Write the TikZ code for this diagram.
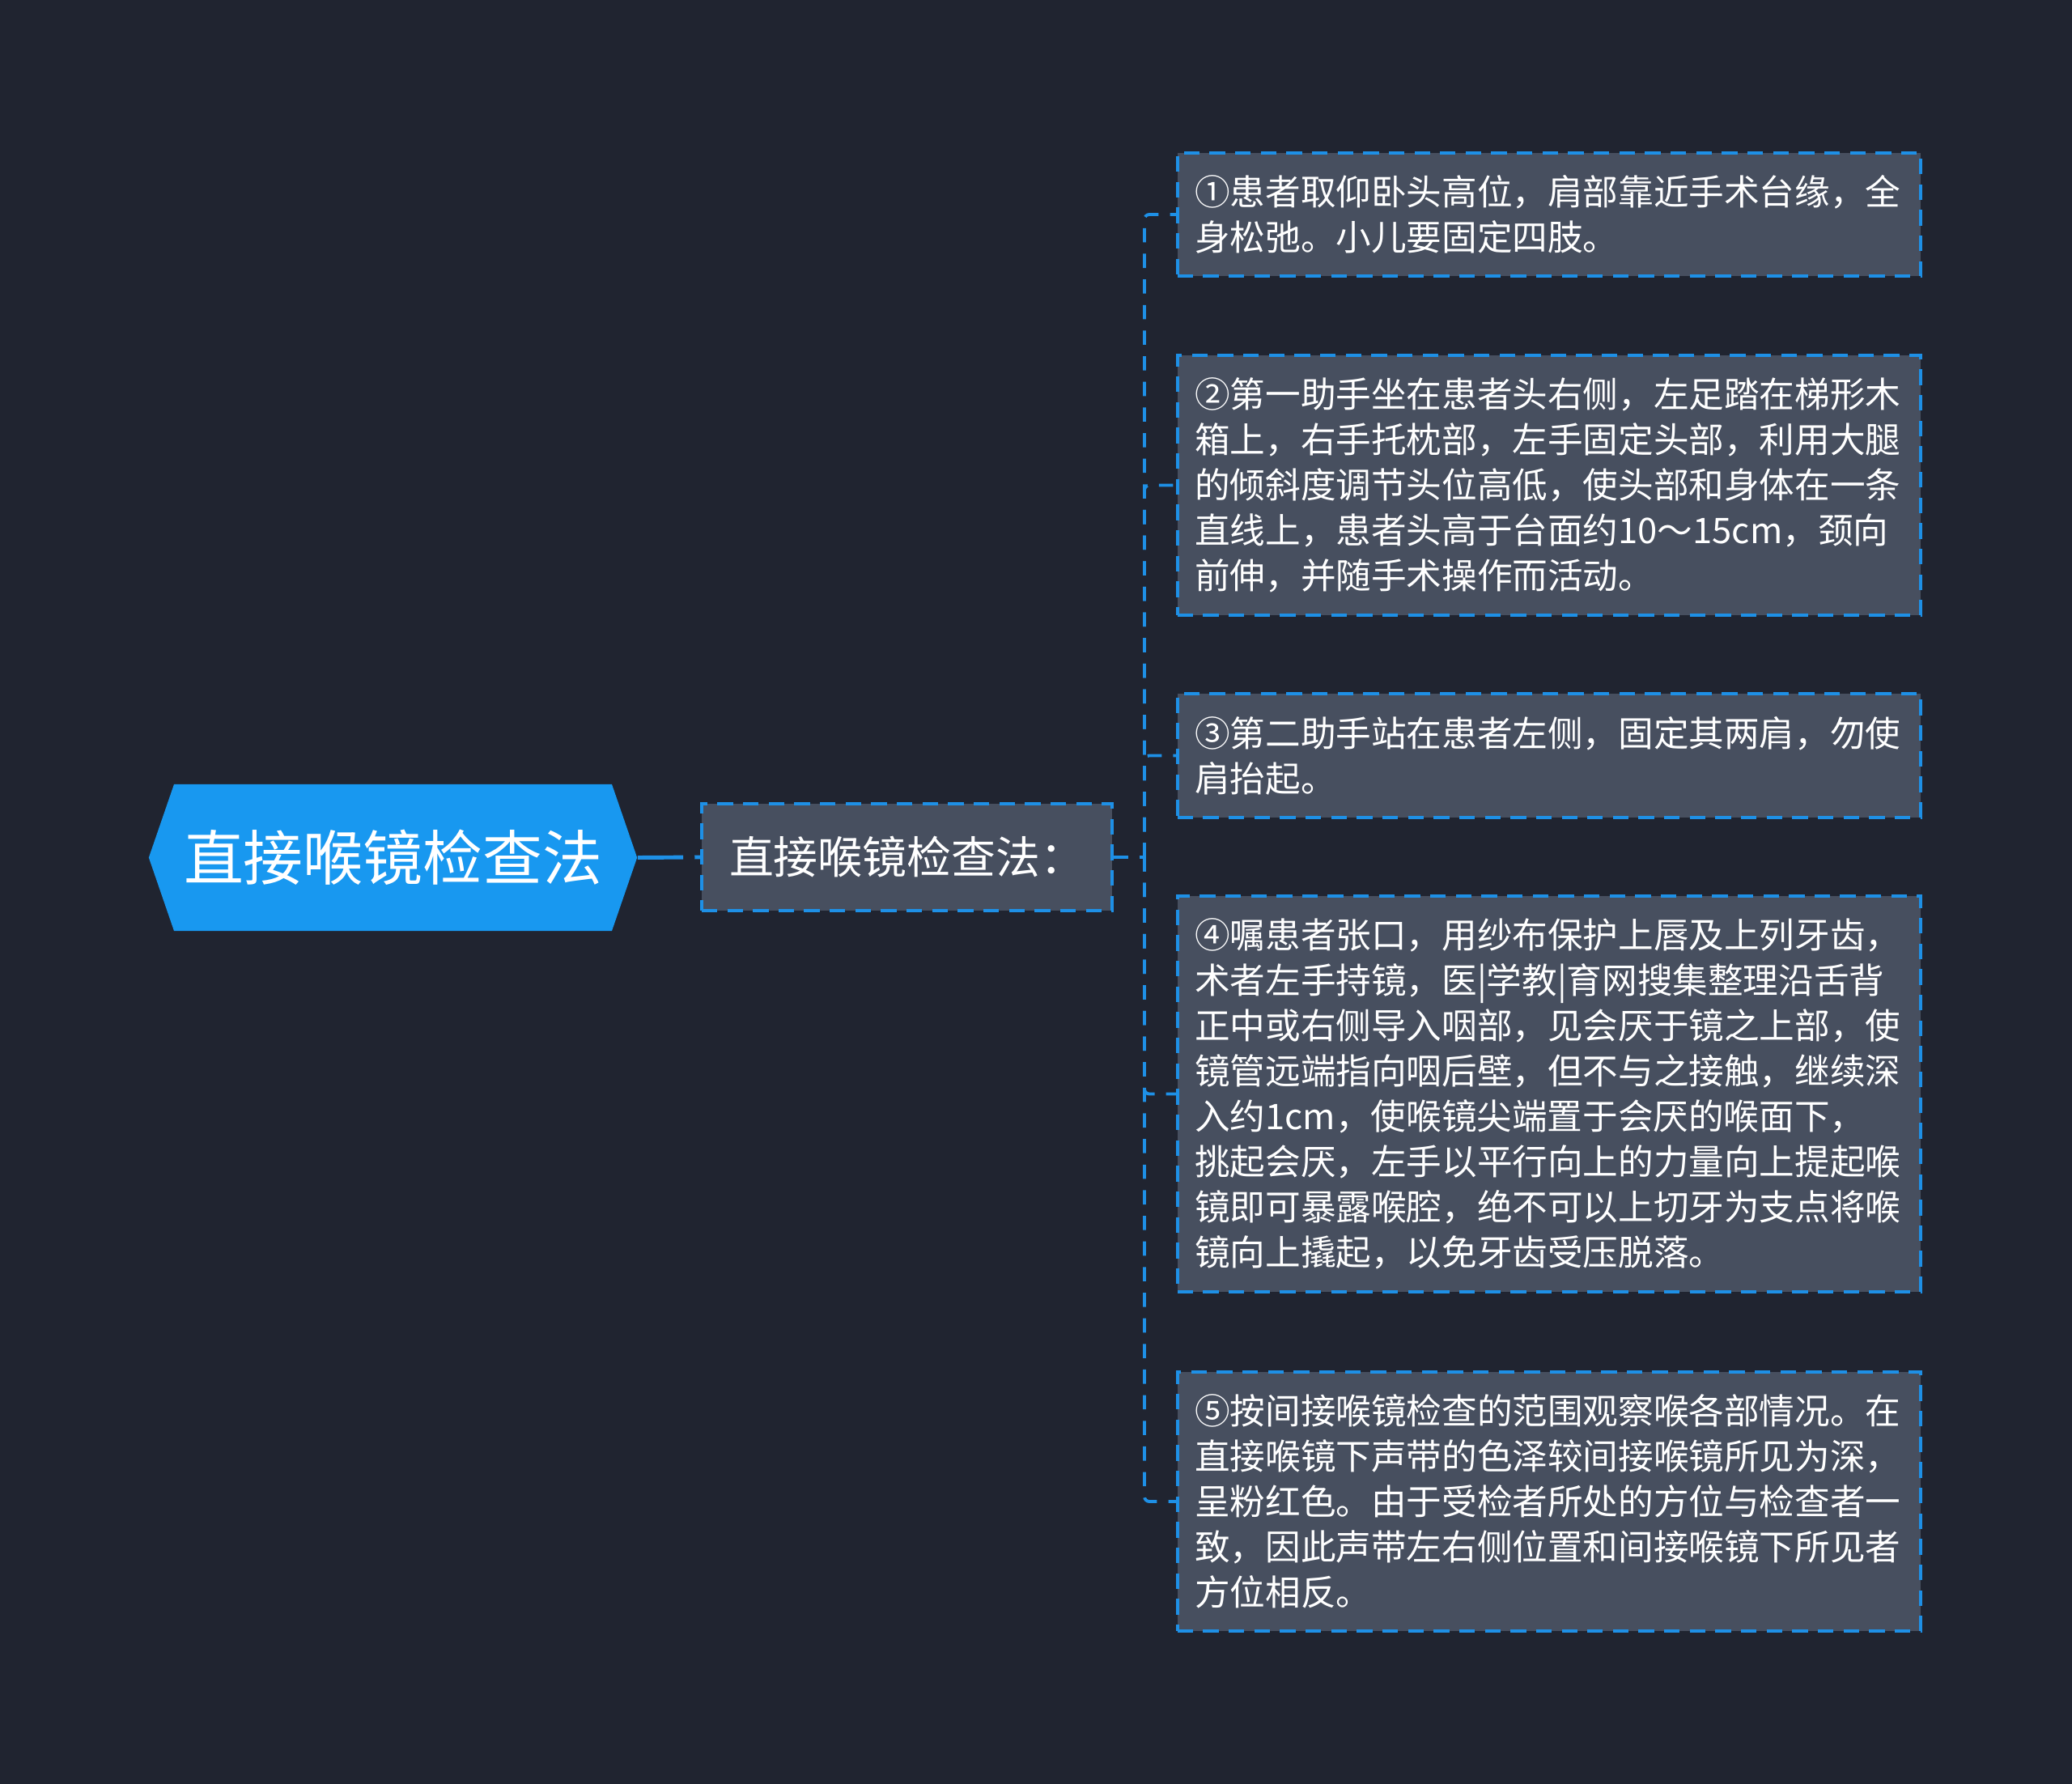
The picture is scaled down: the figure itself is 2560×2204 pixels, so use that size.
\documentclass[tikz,border=0pt]{standalone}
\usepackage{fontspec}
\setmainfont{Noto Sans CJK SC}
\usetikzlibrary{positioning,shapes.symbols}

\definecolor{bgnavy}{RGB}{32,36,48}
\definecolor{cardgray}{RGB}{71,79,95}
\definecolor{linkblue}{RGB}{30,144,230}
\definecolor{rootblue}{RGB}{24,152,240}

\tikzset{
  itembox/.style={draw=linkblue, line width=1.1pt, dash pattern=on 5.5pt off 3.5pt,
    fill=cardgray, text=white, text width=8.75cm, inner xsep=0.215cm, inner ysep=7.9pt,
    align=left, font=\fontsize{12.4pt}{15.9pt}\selectfont},
  midbox/.style={draw=linkblue, line width=1.1pt, dash pattern=on 5.5pt off 3.5pt,
    fill=cardgray, text=white, minimum width=5.07cm, minimum height=1.32cm,
    font=\fontsize{15.6pt}{18pt}\selectfont},
  rootbox/.style={signal, signal to=west and east, signal pointer angle=142,
    fill=rootblue, text=white, minimum width=6.03cm, minimum height=1.81cm,
    font=\fontsize{21pt}{24pt}\selectfont},
  link/.style={draw=linkblue, line width=1.1pt, dash pattern=on 5pt off 4pt,
    rounded corners=0.06cm},
  rootlink/.style={draw=linkblue, line width=1.4pt, dash pattern=on 16pt off 4pt},
}

\begin{document}
\begin{tikzpicture}[x=0.01cm, y=-0.01cm]
    % canvas, in pixels of the reference
    \fill[bgnavy] (0,0) rectangle (2560,2204);
    \useasboundingbox (0,0) rectangle (2560,2204);

    \node[rootbox] (root) at (485.5,1059.5) {直接喉镜检查法};
    \node[midbox] (mid) at (1120.5,1059) {直接喉镜检查法：};
    \coordinate (hub) at (1414,1059); % where the branches split

    % the five steps
    \node[itembox] (item1) at (1914,265) {①患者取仰卧头高位，肩部靠近手术台缘，全\\身松弛。小儿要固定四肢。};
    \node[itembox] (item2) at (1914,599.5) {②第一助手坐在患者头右侧，左足踏在梯形木\\箱上，右手托枕部，左手固定头部，利用大腿\\的倾斜度调节头位高低，使头部和身体在一条\\直线上，患者头高于台面约10～15cm，颈向\\前伸，并随手术操作而活动。};
    \node[itembox] (item3) at (1914,933.5) {③第二助手站在患者左侧，固定其两肩，勿使\\肩抬起。};
    \node[itembox] (item4) at (1914,1351.5) {④嘱患者张口，用纱布保护上唇及上列牙齿，\\术者左手持镜，医|学教|育网搜集整理沿舌背\\正中或右侧导入咽部，见会厌于镜之上部，使\\镜管远端指向咽后壁，但不与之接触，继续深\\入约1cm，使喉镜尖端置于会厌的喉面下，\\挑起会厌，左手以平行向上的力量向上提起喉\\镜即可暴露喉腔，绝不可以上切牙为支点将喉\\镜向上撬起，以免牙齿受压脱落。};
    \node[itembox] (item5) at (1914,1855) {⑤按间接喉镜检查的范围观察喉各部情况。在\\直接喉镜下声带的色泽较间接喉镜所见为深，\\呈粉红色。由于受检者所处的方位与检查者一\\致，因此声带左右侧位置和间接喉镜下所见者\\方位相反。};

    % connectors
    \draw[rootlink] (root.east) -- (mid.west);
    \draw[link] (mid.east) -- (hub);
    \foreach \k in {1,...,5}
        \draw[link] (hub) |- (item\k.west);
\end{tikzpicture}
\end{document}
